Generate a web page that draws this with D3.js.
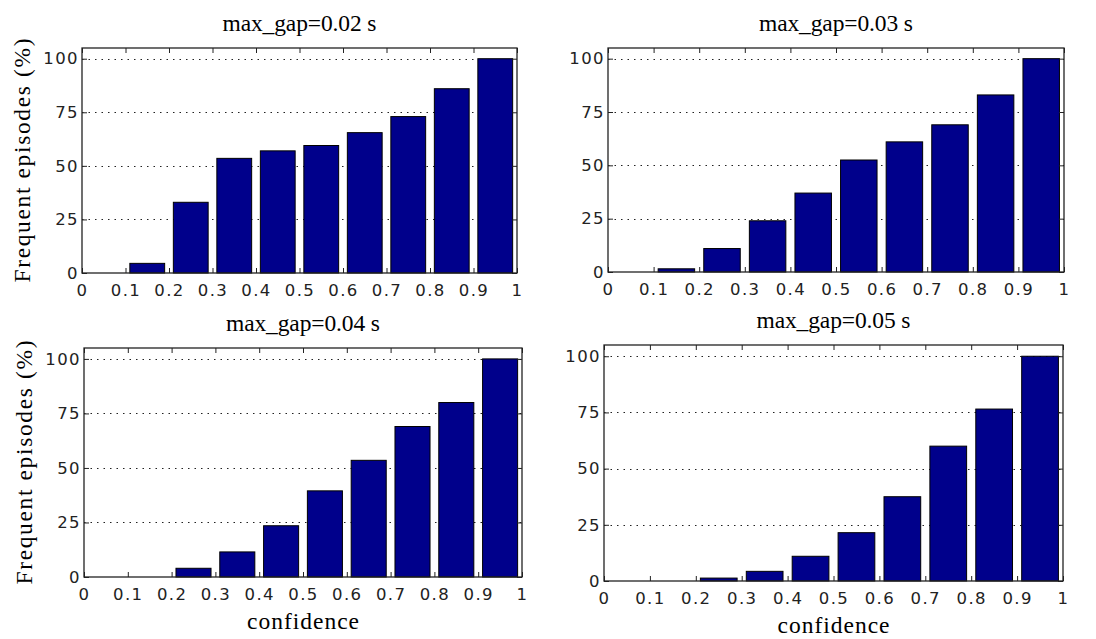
<!DOCTYPE html>
<html>
<head>
<meta charset="utf-8">
<script src="https://cdn.jsdelivr.net/npm/d3@7"></script>
<style>
  body { margin: 0; background: #fff; }
  .tick text { font-family: "DejaVu Sans", sans-serif; font-size: 16.5px; letter-spacing: 1.4px; fill: #222; }
  .serif { font-family: "Liberation Serif", "Times New Roman", serif; font-size: 23.5px; fill: #000; }
</style>
</head>
<body>
<div id="chart"></div>
<script>
// categories: confidence bins
const confidenceBins = ["0-0.1", "0.1-0.2", "0.2-0.3", "0.3-0.4", "0.4-0.5",
                        "0.5-0.6", "0.6-0.7", "0.7-0.8", "0.8-0.9", "0.9-1"];

// frequent episodes (%) per bin, one list per max_gap
const gap002 = [0, 4.5, 33, 53.5, 57, 59.5, 65.5, 73, 86, 100];
const gap003 = [0, 1.5, 11, 24, 37, 52.5, 61, 69, 83, 100];
const gap004 = [0, 0, 4, 11.5, 23.5, 39.5, 53.5, 69, 80, 100];
const gap005 = [0, 0, 1.3, 4.3, 11, 21.5, 37.5, 60, 76.5, 100];

const panelTitles = ["max_gap=0.02 s", "max_gap=0.03 s", "max_gap=0.04 s", "max_gap=0.05 s"];
const xTicks = [0, 0.1, 0.2, 0.3, 0.4, 0.5, 0.6, 0.7, 0.8, 0.9, 1];
const yTicks = [0, 25, 50, 75, 100];
const xLabel = "confidence";
const yLabel = "Frequent episodes (%)";

const svg = d3.select("#chart").append("svg")
    .attr("width", 1096)
    .attr("height", 639);

// axes boxes for each subplot
const panels = [
    {values: gap002, title: panelTitles[0], left: 82,  right: 517,  top: 48,  bottom: 273, ylab: true,  xlab: false},
    {values: gap003, title: panelTitles[1], left: 608, right: 1064, top: 48,  bottom: 272, ylab: false, xlab: false},
    {values: gap004, title: panelTitles[2], left: 84,  right: 522,  top: 348, bottom: 577, ylab: true,  xlab: true},
    {values: gap005, title: panelTitles[3], left: 604, right: 1063, top: 345, bottom: 581, ylab: false, xlab: true}
];

panels.forEach(drawPanel);

function drawPanel(p){
    const g = svg.append("g");

    const x = d3.scaleLinear().domain([0, 1]).range([p.left, p.right]);
    const y = d3.scaleLinear().domain([0, 105]).range([p.bottom, p.top]);
    const band = d3.scaleBand()
        .domain(confidenceBins)
        .range([x(0), x(1)])
        .paddingInner(0.2)
        .paddingOuter(0.1);

    // dotted grid lines
    g.selectAll(".grid")
        .data(yTicks.filter(d => d > 0))
        .join("line")
        .attr("x1", p.left).attr("x2", p.right)
        .attr("y1", d => Math.round(y(d)) + 0.5)
        .attr("y2", d => Math.round(y(d)) + 0.5)
        .attr("stroke", "#222")
        .attr("stroke-dasharray", "1.5,5");

    // bars
    g.selectAll(".bar")
        .data(p.values)
        .join("rect")
        .attr("x", (d, i) => band(confidenceBins[i]))
        .attr("width", band.bandwidth())
        .attr("y", d => y(d))
        .attr("height", d => y(0) - y(d))
        .attr("fill", "#00008b")
        .attr("stroke", "#000")
        .attr("stroke-width", 1);

    // ticks pointing inward on all four sides
    const fmt = d3.format("~g");
    g.append("g")
        .attr("transform", `translate(0,${p.bottom})`)
        .call(d3.axisBottom(x).tickValues(xTicks).tickFormat(fmt).tickSize(-5).tickPadding(11))
        .call(a => a.select(".domain").remove());
    g.append("g")
        .attr("transform", `translate(0,${p.top})`)
        .call(d3.axisTop(x).tickValues(xTicks).tickFormat("").tickSize(-5))
        .call(a => a.select(".domain").remove());
    g.append("g")
        .attr("transform", `translate(${p.left},0)`)
        .call(d3.axisLeft(y).tickValues(yTicks).tickSize(-5).tickPadding(3))
        .call(a => a.select(".domain").remove());
    g.append("g")
        .attr("transform", `translate(${p.right},0)`)
        .call(d3.axisRight(y).tickValues(yTicks).tickFormat("").tickSize(-5))
        .call(a => a.select(".domain").remove());
    g.selectAll(".tick line").attr("stroke", "#222");

    // box
    g.append("rect")
        .attr("x", p.left).attr("y", p.top)
        .attr("width", p.right - p.left).attr("height", p.bottom - p.top)
        .attr("fill", "none")
        .attr("stroke", "#222")
        .attr("stroke-width", 1.3);

    g.append("text")
        .attr("class", "serif")
        .attr("x", (p.left + p.right) / 2)
        .attr("y", p.top - 17)
        .attr("text-anchor", "middle")
        .attr("textLength", 154)
        .text(p.title);

    if(p.ylab){
        g.append("text")
            .attr("class", "serif")
            .attr("transform", `translate(${p.left - 52},${(p.top + p.bottom) / 2}) rotate(-90)`)
            .attr("text-anchor", "middle")
            .attr("textLength", 244)
            .text(yLabel);
    }
    if(p.xlab){
        g.append("text")
            .attr("class", "serif")
            .attr("x", (p.left + p.right) / 2)
            .attr("y", p.bottom + 52)
            .attr("text-anchor", "middle")
            .attr("textLength", 112)
            .text(xLabel);
    }
}
</script>
</body>
</html>
